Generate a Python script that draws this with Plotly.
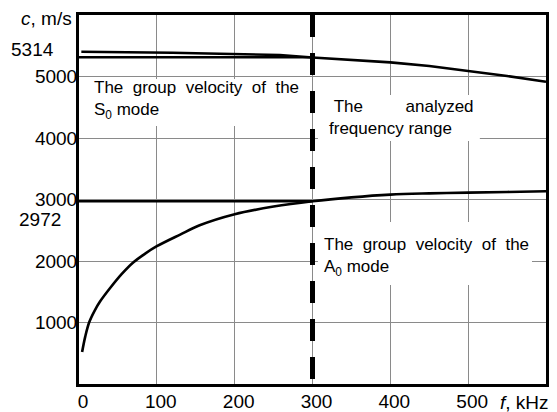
import plotly.graph_objects as go

# ---- data ----
s0_freq = [3, 20, 40, 60, 85, 90, 120, 150, 200, 258, 300, 350, 400, 450, 500, 550, 600]
s0_vel = [5403, 5402, 5401, 5400, 5398, 5390, 5385, 5378, 5362, 5350, 5308, 5272, 5230, 5170, 5094, 5008, 4915]

a0_freq = [4, 8, 13, 20, 27, 40, 55, 70, 85, 100, 130, 155, 200, 250, 300, 350, 400, 450, 500, 550, 600]
a0_vel = [520, 770, 1000, 1190, 1340, 1560, 1790, 1980, 2120, 2240, 2430, 2580, 2760, 2885, 2972, 3035, 3080, 3100, 3112, 3123, 3133]

ref_s0 = 5314
ref_a0 = 2972
ref_freq_range = [0, 300]
analyzed_freq = 300

x_ticks = [0, 100, 200, 300, 400, 500]
y_ticks = [1000, 2000, 3000, 4000, 5000]

FONT = "Liberation Sans, Arial, sans-serif"
FS = 19      # numbers / axis labels
TS = 17      # annotation texts
NB = "\u00a0"

fig = go.Figure()

# white boxes behind the texts (drawn over the grid)
boxes = [
    (2, 290, 4195, 4960),
    (307, 515, 3950, 4700),
    (307, 582, 1610, 2634),
]
shapes = []
for x0, x1, y0, y1 in boxes:
    shapes.append(dict(type="rect", xref="x", yref="y", x0=x0, x1=x1, y0=y0, y1=y1,
                       fillcolor="white", line=dict(width=0), layer="above"))

line_style = dict(color="black", width=2.6)
fig.add_trace(go.Scatter(x=ref_freq_range, y=[ref_s0, ref_s0], mode="lines",
                         line=line_style, showlegend=False))
fig.add_trace(go.Scatter(x=ref_freq_range, y=[ref_a0, ref_a0], mode="lines",
                         line=line_style, showlegend=False))
fig.add_trace(go.Scatter(x=s0_freq, y=s0_vel, mode="lines",
                         line=line_style, showlegend=False))
fig.add_trace(go.Scatter(x=a0_freq, y=a0_vel, mode="lines",
                         line=dict(color="black", width=2.6, shape="spline", smoothing=1.0),
                         showlegend=False))

# dashed vertical line (analyzed frequency)
shapes.append(dict(type="line", xref="x", yref="y", x0=analyzed_freq, x1=analyzed_freq,
                   y0=6000, y1=0, line=dict(color="black", width=5, dash="22px,16px"),
                   layer="above"))

tfont = dict(family=FONT, size=TS, color="black")
lfont = dict(family=FONT, size=FS, color="black")
annotations = [
    dict(x=16.5, y=4618, xref="x", yref="y", xanchor="left", yanchor="middle", align="left",
         text=f"The{NB*2}group{NB*2}velocity{NB*2}of{NB*2}the<br>S<sub>0</sub> mode",
         showarrow=False, font=tfont),
    dict(x=318.5, y=4333, xref="x", yref="y", xanchor="left", yanchor="middle", align="left",
         text=f"{NB}The{NB*9}analyzed<br>frequency range",
         showarrow=False, font=tfont),
    dict(x=312.5, y=2065, xref="x", yref="y", xanchor="left", yanchor="middle", align="left",
         text=f"The{NB*2}group{NB*2}velocity{NB*2}of{NB*2}the<br>A<sub>0</sub> mode",
         showarrow=False, font=tfont),
    dict(x=0, y=ref_s0, xref="paper", yref="y", xanchor="right", yanchor="middle",
         xshift=-23, yshift=8, text=str(ref_s0), showarrow=False, font=lfont),
    dict(x=0, y=ref_a0, xref="paper", yref="y", xanchor="right", yanchor="middle",
         xshift=-16, yshift=-18, text=str(ref_a0), showarrow=False, font=lfont),
    dict(x=0, y=1, xref="paper", yref="paper", xanchor="right", yanchor="middle",
         xshift=-5, yshift=-3, text="<i>c</i>, m/s", showarrow=False, font=lfont),
    dict(x=1, y=0, xref="paper", yref="paper", xanchor="right", yanchor="middle",
         xshift=5, yshift=-18, text="<i>f</i>, kHz", showarrow=False, font=lfont),
]

fig.update_layout(
    width=557, height=412,
    margin=dict(l=79, r=11, t=15, b=28),
    paper_bgcolor="white", plot_bgcolor="white",
    shapes=shapes, annotations=annotations,
    font=lfont,
    xaxis=dict(range=[0, 600], tickvals=x_ticks, ticktext=[str(v) for v in x_ticks],
               showgrid=True, gridcolor="#8a8a8a", gridwidth=1, zeroline=False,
               showline=True, linecolor="black", linewidth=3, mirror=True,
               ticks="", ticklabelshift=4, ticklabelstandoff=-2, automargin=False,
               tickfont=lfont),
    yaxis=dict(range=[0, 6000], tickvals=y_ticks, ticktext=[str(v) for v in y_ticks],
               showgrid=True, gridcolor="#8a8a8a", gridwidth=1, zeroline=False,
               showline=True, linecolor="black", linewidth=3, mirror=True,
               ticks="", ticklabelstandoff=-5, automargin=False,
               tickfont=lfont),
)

fig.write_html("out.html", config={"displayModeBar": False},
               post_script="document.body.style.margin='0px';")
